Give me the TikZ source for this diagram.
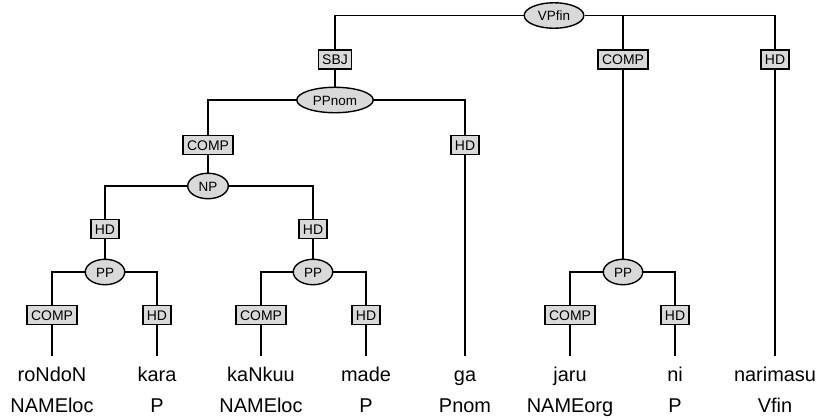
\documentclass[tikz,border=0pt]{standalone}
\usepackage{fontspec}
\setmainfont{Liberation Sans}
\usetikzlibrary{shapes.geometric}
\begin{document}
\begin{tikzpicture}[
  x=1bp, y=-1bp,
  phr/.style={ellipse, draw, fill=gray!30, inner xsep=5bp, inner ysep=4bp, text height=10bp, text depth=0bp, font=\fontsize{13.5}{16}\selectfont},
  fn/.style={rectangle, draw, fill=gray!30, inner xsep=4bp, inner ysep=4.5bp, text height=10bp, text depth=0bp, font=\fontsize{14}{16}\selectfont},
  word/.style={anchor=base, inner sep=0pt, text height=24bp, text depth=5bp, font=\fontsize{20}{24}\selectfont},
  tag/.style={anchor=base, inner sep=0pt, font=\fontsize{20}{24}\selectfont},
  line width=1.4bp
]
  \useasboundingbox (0,0) rectangle (819,419);

  \node[phr] (vp) at (554, 15.5) {VPfin};
  \node[fn] (sbj) at (335, 59.5) {SBJ};
  \node[fn] (compv) at (623, 59.5) {COMP};
  \node[fn] (hdv) at (775, 59.5) {HD};
  \node[phr] (ppnom) at (335, 100) {PPnom};
  \node[fn] (compn) at (208, 145) {COMP};
  \node[fn] (hdn) at (465, 145) {HD};
  \node[phr] (np) at (208, 186) {NP};
  \node[fn] (hda) at (105, 229) {HD};
  \node[fn] (hdb) at (313, 229) {HD};
  \node[phr] (ppa) at (105, 272) {PP};
  \node[phr] (ppb) at (313, 272) {PP};
  \node[phr] (ppc) at (623, 272) {PP};
  \node[fn] (compa) at (52, 315) {COMP};
  \node[fn] (hdc) at (157, 315) {HD};
  \node[fn] (compb) at (261, 315) {COMP};
  \node[fn] (hdd) at (366, 315) {HD};
  \node[fn] (compc) at (570, 315) {COMP};
  \node[fn] (hde) at (675, 315) {HD};

  \node[word] (w1) at (52, 381) {roNdoN};
  \node[word] (w2) at (157, 381) {kara};
  \node[word] (w3) at (261, 381) {kaNkuu};
  \node[word] (w4) at (366, 381) {made};
  \node[word] (w5) at (465, 381) {ga};
  \node[word] (w6) at (570, 381) {jaru};
  \node[word] (w7) at (675, 381) {ni};
  \node[word] (w8) at (775, 381) {narimasu};
  \node[tag] (c1) at (52, 412) {NAMEloc};
  \node[tag] (c2) at (157, 412) {P};
  \node[tag] (c3) at (261, 412) {NAMEloc};
  \node[tag] (c4) at (366, 412) {P};
  \node[tag] (c5) at (465, 412) {Pnom};
  \node[tag] (c6) at (570, 412) {NAMEorg};
  \node[tag] (c7) at (675, 412) {P};
  \node[tag] (c8) at (775, 412) {Vfin};

  \draw (vp) -| (sbj);
  \draw (vp) -| (compv);
  \draw (vp) -| (hdv);
  \draw (sbj) -- (ppnom);
  \draw (compv) -- (ppc);
  \draw (hdv) -- (w8);
  \draw (ppnom) -| (compn);
  \draw (ppnom) -| (hdn);
  \draw (compn) -- (np);
  \draw (hdn) -- (w5);
  \draw (np) -| (hda);
  \draw (np) -| (hdb);
  \draw (hda) -- (ppa);
  \draw (hdb) -- (ppb);
  \draw (ppa) -| (compa);
  \draw (ppa) -| (hdc);
  \draw (ppb) -| (compb);
  \draw (ppb) -| (hdd);
  \draw (ppc) -| (compc);
  \draw (ppc) -| (hde);
  \draw (compa) -- (w1);
  \draw (hdc) -- (w2);
  \draw (compb) -- (w3);
  \draw (hdd) -- (w4);
  \draw (compc) -- (w6);
  \draw (hde) -- (w7);
\end{tikzpicture}
\end{document}
